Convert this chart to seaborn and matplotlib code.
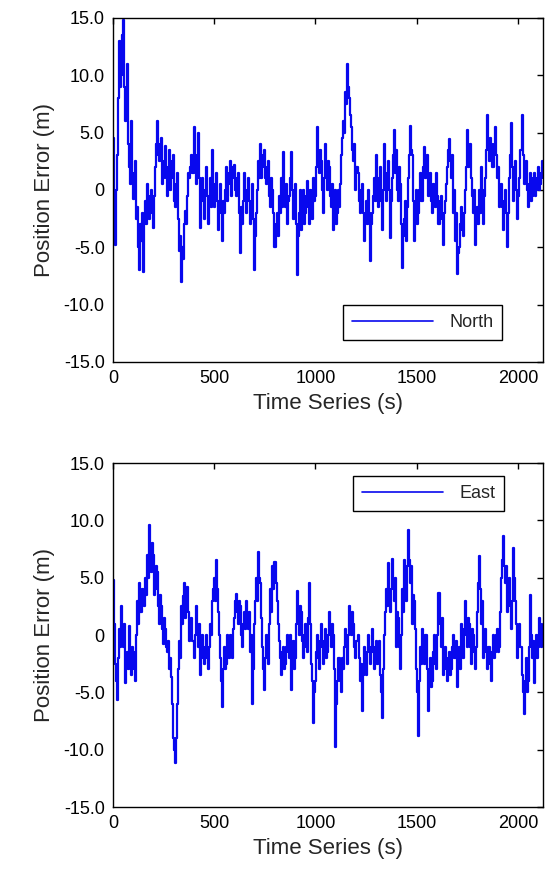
import numpy as np
import pandas as pd
import seaborn as sns
import matplotlib.pyplot as plt

# sample times (s), one value every 5 s
time_s = np.arange(0, 2130, 5)

# each row = 100 s of samples
north_err = [
    4.5, -1, -4.8, 0, 3, 8, 13, 9, 10, 13.5, 14.8, 9, 6, 8, 11, 4, 2, 0.5, 6, 1.5,
    -0.8, 1, 2.5, -2.5, -1.5, -5, -7, -3, -4.5, -2, -7.2, -3, -1, -3, 0.5, -1, -2.5, -0.5, 0, -2,
    -3.3, -0.5, 2, 4, 6, 3, 2.5, 4, 4.5, 0.5, 1, 2.5, 3.8, 1, -0.5, 2, 3.5, 0, 1, 2.5,
    3, -1, -1.5, 0.5, 1.5, -2.5, -5.3, -4, -8, -5, -6, -3, -1.8, -3, -0.5, 1.5, 1, 2, 3, 1.5,
    5.5, 2.5, 0.5, 3, 5, 1, -3.3, -1, 1, -1, -2.5, 0, 2, -0.5, -3, -0.5, 1, -1.5, 3.5, 0.5,
    -1.5, 0, 1.5, -1, -3.5, -1, 0.5, -2, -4.5, -1, -2, 0, 2, -1, 0.5, 1.5, 2.5, -0.5, 1, 2,
    2.2, 0, -0.5, 1, 1.5, -2, -5.5, -1.5, -3, -1, 1.5, -1, -2, 0, 1, -1, -3, -1, 0.5, -2.5,
    -7, -4, -2, 0, 2.5, 1, 4, 1, 2, 3, 3.5, 1, 0.5, 2, 2.5, -0.5, -1.5, 1, 0, -2,
    -5, -3, -2, -4, -0.5, -2, 1, -1.5, 3.3, 0, -1.5, 0.5, -3, -1, -0.5, 1, 3.3, 0, -2.5, -1,
    0.5, -3, -7.4, -4, -2, 0, -3.5, -1, 0, -3, -2, -0.5, 0.8, -1.5, -3, 0, -1, -2.5, 1, -1,
    -0.5, 2, 5.5, 2.5, 1.5, 3.5, 2.5, 0, -2, 1, 4, 1.5, 0, 2.5, 2, -0.5, -1.5, 0.5, -3.5, -1,
    0, -3, -2, 0, -1.5, 0.5, 3, 4.5, 6, 5, 8.5, 7.5, 11, 9, 8, 6.5, 5.5, 3.5, 2.5, 4,
    0, 2, 1.5, -1, -2, 0, 0.5, -2, -4.5, -2.5, -1, -3, 0, -2, -6.2, -3, -2, -0.5, 1, -1,
    3, 0.5, -1.5, 1, 2, -1, -3.5, 0, 4, 1, -1, 1.5, 2.5, 0, -4.2, -1, 1, 3, 5.2, 1.5,
    3.5, 0, -1, 2, 0.5, -3, -6.8, -4, -2.5, -1, -4.5, -1.5, 1, 3, 5.6, 3.5, 3, -1, -4.5, -2,
    0, -3, -2, 0, 1.5, -1, -1, 2, 3.7, 1, 2, 3, -0.5, 0.5, 1.5, -1, -2, 0.5, 0, -1.5,
    1.5, -0.5, -3, -1, -0.5, -2.5, -4.8, -2, -1, 0.5, 2, 3.5, 4.4, 2.5, 1, 3, -2, 0, -4.5, -2,
    -7.3, -5.5, -5, -3, -1.5, -3.5, -4, -2, 0, 2, 5.2, 2, 3, 4, 1, -0.5, -2, 0, -4.8, -3,
    -1.5, -3, 0, -2, 2, 0, -3, -0.5, 1, 3.5, 6.5, 4, 2.5, 4.5, 4, 2, 2, 4, 5.5, 3,
    1, 2, -1.5, 0, 0.5, -1.5, -3.5, -1, 0, -2, -5, -2, 1, 3, 5.8, 2, -1, 0.5, 2.5, 0,
    -2.5, -0.5, 1, 3.5, 6.5, 3, 0.5, 2, 2.5, 0, -1.5, 0.5, 1.5, -1, -0.5, 1, 1.5, -0.5, 0, 1,
    2, 0, 0.5, 1.5, 2.5, 1,
]

east_err = [
    4.8, 1, -2.5, -4, -5.7, -2, 0.5, -1, 2.5, 0, -1, 1, -4.2, -2, -1.5, -3, 0.8, -1.5, -3.5, -1,
    -1.5, -3, -4, 0, 3, 1, 4.5, 2, 2, 4, 3.8, 2.5, 5, 3.5, 7, 5, 9.6, 6, 5.5, 8,
    7, 3.5, 4, 6, 5.5, 2.5, 1, 3.5, 2.5, 0.5, -0.8, 1.5, 0.5, -1, -1.5, -0.5, -3, -2, -3.7, -6,
    -9, -10, -11.2, -9, -6, -3, -0.5, -2, 2.5, 1, 3.4, 4.5, 1.5, 3, 4.2, 2, -0.5, 1, 1.5, -0.5,
    -2, 0, 2.5, 0.5, -1, 1, -3.5, -1.5, 0, -2, -2.5, -1, 0, -2, -3, -1, 1, 0, 3, 4,
    5, 3, 6.5, 4, 2, 0, -2, -4, -6.3, -3, -1, -3, -2.5, 0, -1, -2, 0, -1, -2, 0.5,
    1.5, 3, 3.6, 2, 1, 3, 2.5, 0, -1, 1, 2, 0.5, 3, 1.5, 0.5, 2, -1.5, 0, -6, -3,
    1, 3, 5, 3, 7.2, 5, 4.5, 1.5, -1, -3, -4.8, -2, 0, -1, -2.5, 1, 4, 2, 6, 4,
    6.4, 4.5, 3, 1, -0.5, -2, -3.5, -1.5, -1, -3, -2.5, -1, 0, -1.5, -2, 0, -4.8, -2.5, -0.5, -3,
    -2, 1, 3.8, 1.5, 0, 2.5, 2, -0.5, -2, 0, 1, -1, -1.5, 1.5, 4.5, 1, -2.5, -4, -7.7, -5,
    -4, -1.5, 0, -2, -3, -0.5, 1, -1, -2.5, -0.5, 0.5, -2, -1.5, 0, 2, 0.5, -1, 1, 0, -3,
    -9.8, -6, -4, -2, -2, -4, -5, -2, -3, -1, 0.5, -1, -2.5, 0, 2.5, 0.5, 0, 2, 1, -1,
    -2, -0.5, 0, -2, -4, -2.5, -6.6, -3.5, -1, -2, -3.5, -1.5, 0, -1, -2.5, -1, 0.5, -1.5, -3, -1,
    -0.5, -2.5, -2, -0.5, -3.5, -5, -7.2, -3, 0, 2, 4, 2.5, 6.3, 3.5, 2, 4, 6.6, 4.5, 3, 5,
    -1, 2, 1.5, -1, -3, 0, 4, 2, 6.5, 4.5, 3, 6, 9.2, 6.5, 4.5, 6, 1, 3.5, 3, 0.5,
    -3, -5, -8.8, -4, -1, -2.5, 0.5, -1, -2.5, 0, 0, -3, -6.6, -4, -2, -4.5, -4, -1.5, 0, -2.5,
    -3, 0, 3.7, 1, -1, 1.5, -3.5, -1.5, -1, -3, -4, -2, -1.5, -3.5, -3, -1, 0, -2, -2, -0.5,
    -4.5, -2.5, -1, -3, 1, -1, -2, 0.5, 3, 0, -1, 1.5, 1, -1, -2.5, 0.5, 0, -1.5, -3, -1,
    2, 4.5, 6.9, 4, 1, 3, -2, 0, 0.5, -1.5, -3, -1, -1, -2.5, -4, -1.5, 0, -2, -1.5, 0,
    0.5, -1.5, -1, 2, 5, 6.5, 8.6, 6, 4.5, 6, 2, 4, 5, 2.5, 0.5, 3, 7.6, 5, 3, 1,
    -2, 0, 1, -1, -3.5, -5, -6.9, -4, -2, -5, -4, -1, 3.5, 0, -2, -0.5, -4.2, -2, 0, -2,
    -1, 1.5, 1, -1, -0.5, 1,
]

y_ticks = [15, 10, 5, 0, -5, -10, -15]
y_tick_labels = ["15.0", "10.0", "5.0", "0", "-5.0", "-10.0", "-15.0"]
x_ticks = [0, 500, 1000, 1500, 2000]

df = pd.DataFrame({"t": time_s, "North": north_err, "East": east_err})

sns.set_theme(style="white")
plt.rcParams["font.family"] = ["Liberation Sans", "DejaVu Sans"]

fig = plt.figure(figsize=(5.46, 8.72), dpi=100)
ax1 = fig.add_axes([0.207, 0.585, 0.788, 0.3945])
ax2 = fig.add_axes([0.207, 0.0745, 0.788, 0.3945])

for ax, col, loc, anchor in [(ax1, "North", "lower right", (0.905, 0.064)),
                             (ax2, "East", "upper right", (0.909, 0.962))]:
    sns.lineplot(data=df, x="t", y=col, ax=ax, color="#0808ee", linewidth=1.6,
                 estimator=None, sort=False, drawstyle="steps-mid", label=col)
    ax.set_xlim(0, 2125)
    ax.set_ylim(-15, 15)
    ax.set_xticks(x_ticks)
    ax.set_xticklabels([str(v) for v in x_ticks])
    ax.set_yticks(y_ticks)
    ax.set_yticklabels(y_tick_labels)
    ax.tick_params(direction="in", length=4, width=1, top=True, right=True,
                   labelsize=13, colors="black", pad=6)
    for s in ax.spines.values():
        s.set_color("black")
        s.set_linewidth(1.0)
    ax.set_xlabel("Time Series (s)", fontsize=16, labelpad=4)
    ax.set_ylabel("Position Error (m)", fontsize=16, labelpad=6)
    leg = ax.legend(loc=loc, bbox_to_anchor=anchor, fontsize=13, handlelength=4.5,
                    handletextpad=0.9, borderpad=0.5, borderaxespad=0, frameon=True,
                    fancybox=False, framealpha=1, edgecolor="black")
    leg.get_frame().set_linewidth(1.0)
    leg.get_lines()[0].set_linewidth(1.2)

plt.savefig("out.png", dpi=100)
